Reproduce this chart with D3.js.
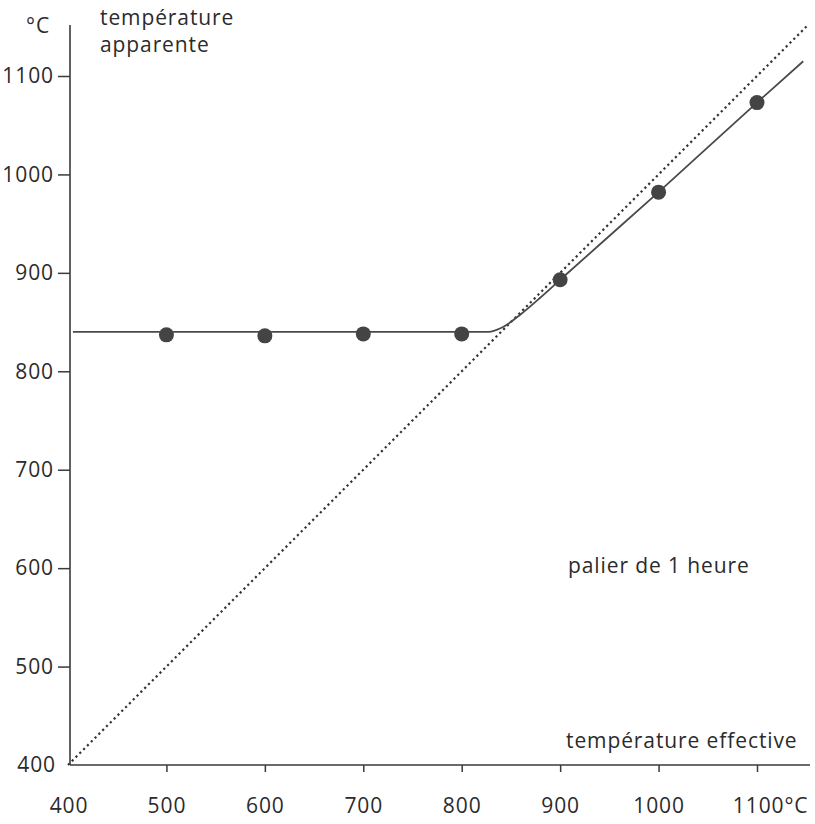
<!DOCTYPE html>
<html><head><meta charset="utf-8">
<script src="https://cdn.jsdelivr.net/npm/d3@7"></script>
<style>
body{margin:0;background:#fff;}
text{font-family:"Open Sans",sans-serif;fill:#2b2b2b;letter-spacing:0.9px;font-weight:500;}
</style></head>
<body><svg id="c" width="815" height="824"></svg>
<script>
// data
const xTicks = [400,500,600,700,800,900,1000,1100];
const yTicks = [400,500,600,700,800,900,1000,1100];
const measuredX = [500,600,700,800,900,1000,1100];
const measuredY = [837,836,838,838,893,982,1073];
const curveX = [405,827,842,860,880,900,1000,1100,1147];
const curveY = [840,840,845,858,875,893,982,1073,1115];
const diagX = [400,1152];
const diagY = [400,1152];

const svg = d3.select("#c");
const x = d3.scaleLinear().domain([400,1100]).range([68,757]);
const y = d3.scaleLinear().domain([400,1100]).range([765,76]);
const ink = "#3a3a3a";
const fs = 21;

// axes lines
svg.append("line").attr("x1",x(400)+2).attr("x2",x(400)+2).attr("y1",25).attr("y2",y(400))
  .attr("stroke",ink).attr("stroke-width",1.6);
svg.append("line").attr("x1",x(400)+2).attr("x2",810).attr("y1",y(400)).attr("y2",y(400))
  .attr("stroke",ink).attr("stroke-width",1.6);

const yAxis = svg.append("g").attr("transform",`translate(${x(400)+2},0)`)
  .call(d3.axisLeft(y).tickValues(yTicks.slice(1)).tickSize(12).tickPadding(4).tickFormat(d3.format("d")));
yAxis.select(".domain").remove();
svg.append("text").attr("x",56).attr("y",y(400)).attr("dy","0.32em").attr("text-anchor","end")
  .attr("font-size",fs).text("400");

const xAxis = svg.append("g").attr("transform",`translate(0,${y(400)})`)
  .call(d3.axisBottom(x).tickValues(xTicks.slice(1)).tickSize(7).tickPadding(26)
    .tickFormat(d=> d===1100 ? "1100°C" : String(d)));
xAxis.select(".domain").remove();
svg.append("text").attr("x",x(400)+1).attr("y",y(400)+33).attr("dy","0.71em").attr("text-anchor","middle")
  .attr("font-size",fs).text("400");

svg.selectAll(".tick line").attr("stroke",ink).attr("stroke-width",1.5);
svg.selectAll(".tick text").attr("font-size",fs).attr("font-family","'Open Sans',sans-serif").attr("fill","#2b2b2b");
xAxis.selectAll(".tick text").filter(d=>d===1100).attr("text-anchor","end").attr("dx","0").attr("x",808-x(1100));

// diagonal dotted
const line = d3.line().x(d=>x(d[0])).y(d=>y(d[1]));
svg.append("path").datum(d3.zip(diagX,diagY)).attr("d",line)
  .attr("fill","none").attr("stroke","#333").attr("stroke-width",2.2).attr("stroke-dasharray","2.2,3.2");

// fitted curve
svg.append("path").datum(d3.zip(curveX,curveY)).attr("d",line.curve(d3.curveMonotoneX))
  .attr("fill","none").attr("stroke","#4a4a4a").attr("stroke-width",1.8);

// points
svg.selectAll("circle.pt").data(d3.zip(measuredX,measuredY)).join("circle")
  .attr("cx",d=>x(d[0])).attr("cy",d=>y(d[1])).attr("r",7.5).attr("fill","#444");

// labels
svg.append("text").attr("x",26).attr("y",33).attr("font-size",fs).text("°C");
svg.append("text").attr("x",100).attr("y",25).attr("font-size",fs).text("température");
svg.append("text").attr("x",100).attr("y",52).attr("font-size",fs).text("apparente");
svg.append("text").attr("x",566).attr("y",748).attr("font-size",fs).text("température effective");
svg.append("text").attr("x",568).attr("y",573).attr("font-size",fs).text("palier de 1 heure");
</script></body></html>
